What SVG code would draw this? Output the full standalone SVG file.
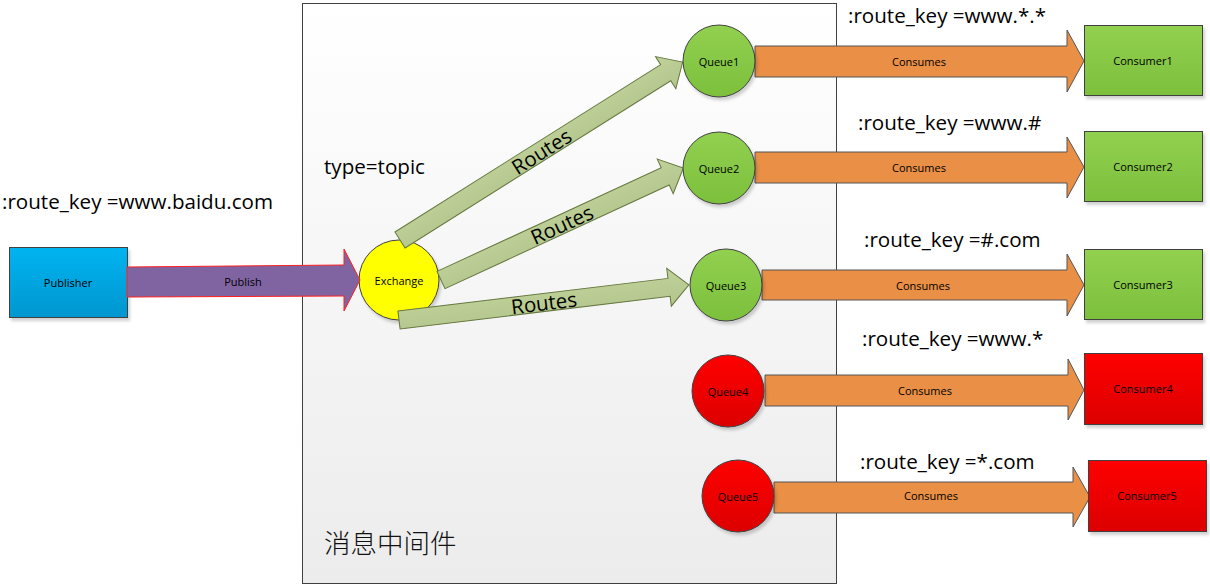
<svg xmlns="http://www.w3.org/2000/svg" width="1210" height="588" viewBox="0 0 1210 588">
<defs>
<linearGradient id="gBox" x1="0" y1="0" x2="0" y2="1"><stop offset="0" stop-color="#ffffff"/><stop offset="1" stop-color="#ececec"/></linearGradient>
<linearGradient id="gBlue" x1="0" y1="0" x2="0" y2="1"><stop offset="0" stop-color="#00b4f0"/><stop offset="1" stop-color="#0096cf"/></linearGradient>
<linearGradient id="gGreen" x1="0" y1="0" x2="0" y2="1"><stop offset="0" stop-color="#92d050"/><stop offset="1" stop-color="#7cc03c"/></linearGradient>
<linearGradient id="gRed" x1="0" y1="0" x2="0" y2="1"><stop offset="0" stop-color="#ff0000"/><stop offset="1" stop-color="#dc0000"/></linearGradient>
<linearGradient id="gRoute" x1="0" y1="0" x2="0" y2="1"><stop offset="0" stop-color="#c0d29a"/><stop offset="1" stop-color="#b2c58c"/></linearGradient>
<filter id="sh" x="-20%" y="-20%" width="140%" height="140%"><feDropShadow dx="2" dy="3" stdDeviation="1.5" flood-color="#000" flood-opacity="0.18"/></filter>
</defs>
<style>
.lbl{font-family:"Open Sans","Liberation Sans",sans-serif;fill:#000}
.key{font-size:20.6px}
.small{font-size:11px;text-anchor:middle;dominant-baseline:central}
.route{font-size:20.5px;text-anchor:middle;dominant-baseline:central}
.node{stroke:#404040;stroke-width:1}
.cons{fill:#e98f46;stroke:#555;stroke-width:1}
.rt{fill:url(#gRoute);stroke:#66773f;stroke-width:1}
</style>

<g id="middleware">
<rect x="302.5" y="3.5" width="534" height="580" fill="url(#gBox)" stroke="#404040" stroke-width="1"/>
<text class="lbl" x="324" y="174" font-size="20.6">type=topic</text>
<text x="324" y="553" font-size="26.5" font-family="'Noto Sans CJK SC',sans-serif" font-weight="300" fill="#111">消息中间件</text>
</g>

<g id="labels">
<text class="lbl key" x="2" y="209">:route_key =www.baidu.com</text>
<text class="lbl key" x="848" y="23">:route_key =www.*.*</text>
<text class="lbl key" x="858" y="130">:route_key =www.#</text>
<text class="lbl key" x="864" y="247">:route_key =#.com</text>
<text class="lbl key" x="862" y="346">:route_key =www.*</text>
<text class="lbl key" x="860" y="469">:route_key =*.com</text>
</g>

<g id="publisher">
<rect class="node" x="9.5" y="247.5" width="118" height="70" fill="url(#gBlue)" filter="url(#sh)"/>
<text class="lbl small" x="68" y="282">Publisher</text>
</g>

<g id="exchange">
<circle class="node" cx="399" cy="280" r="40" fill="#ffff00" filter="url(#sh)"/>
<text class="lbl small" x="399" y="280">Exchange</text>
</g>

<g id="connectors">
<g id="publish">
<polygon points="127,267 344,265 344,249 360,280 344,311 344,296 127,297" fill="#8064a2" stroke="#ff2020" stroke-width="1"/>
<text class="lbl small" x="243" y="281">Publish</text>
</g>
<g id="route1" transform="translate(400,240) rotate(-32.2)">
<path class="rt" d="M0,-9.5 H314 V-19 L334,0 L314,19 V9.5 H0 Z"/>
<text class="lbl route" x="167" y="0">Routes</text>
</g>
<g id="route2" transform="translate(441,280) rotate(-24.8)">
<path class="rt" d="M0,-9.5 H247 V-19 L267,0 L247,19 V9.5 H0 Z"/>
<text class="lbl route" x="133" y="0">Routes</text>
</g>
<g id="route3" transform="translate(399,320) rotate(-6.9)">
<path class="rt" d="M0,-9 H272 V-19 L292,0 L272,19 V9 H0 Z"/>
<text class="lbl route" x="146" y="0">Routes</text>
</g>
<g id="consume1">
<polygon class="cons" points="755,46 1067,46 1067,30 1084,61 1067,92 1067,77 755,77"/>
<text class="lbl small" x="919" y="61">Consumes</text>
</g>
<g id="consume2">
<polygon class="cons" points="755,152 1067,152 1067,137 1084,167 1067,198 1067,183 755,183"/>
<text class="lbl small" x="919" y="167">Consumes</text>
</g>
<g id="consume3">
<polygon class="cons" points="762,270 1067,270 1067,254 1084,285 1067,316 1067,300 762,300"/>
<text class="lbl small" x="923" y="285">Consumes</text>
</g>
<g id="consume4">
<polygon class="cons" points="765,375 1068,375 1068,359 1084,390 1068,420 1068,406 765,406"/>
<text class="lbl small" x="925" y="390">Consumes</text>
</g>
<g id="consume5">
<polygon class="cons" points="774,482 1073,482 1073,467 1090,497 1073,527 1073,513 774,513"/>
<text class="lbl small" x="931" y="495">Consumes</text>
</g>
</g>

<g id="queue1"><circle class="node" cx="719" cy="61" r="36" fill="url(#gGreen)" filter="url(#sh)"/><text class="lbl small" x="719" y="61">Queue1</text></g>
<g id="queue2"><circle class="node" cx="719" cy="168" r="36" fill="url(#gGreen)" filter="url(#sh)"/><text class="lbl small" x="719" y="168">Queue2</text></g>
<g id="queue3"><circle class="node" cx="726" cy="285" r="36" fill="url(#gGreen)" filter="url(#sh)"/><text class="lbl small" x="726" y="285">Queue3</text></g>
<g id="queue4"><circle class="node" cx="728" cy="391" r="36" fill="url(#gRed)" filter="url(#sh)"/><text class="lbl small" x="728" y="391">Queue4</text></g>
<g id="queue5"><circle class="node" cx="738" cy="496" r="36" fill="url(#gRed)" filter="url(#sh)"/><text class="lbl small" x="738" y="496">Queue5</text></g>

<g id="consumer1"><rect class="node" x="1084.5" y="25.5" width="118" height="70" fill="url(#gGreen)" filter="url(#sh)"/><text class="lbl small" x="1143" y="60">Consumer1</text></g>
<g id="consumer2"><rect class="node" x="1084.5" y="131.5" width="118" height="70" fill="url(#gGreen)" filter="url(#sh)"/><text class="lbl small" x="1143" y="166">Consumer2</text></g>
<g id="consumer3"><rect class="node" x="1084.5" y="249.5" width="118" height="70" fill="url(#gGreen)" filter="url(#sh)"/><text class="lbl small" x="1143" y="284">Consumer3</text></g>
<g id="consumer4"><rect class="node" x="1084.5" y="353.5" width="118" height="71" fill="url(#gRed)" filter="url(#sh)"/><text class="lbl small" x="1143" y="388">Consumer4</text></g>
<g id="consumer5"><rect class="node" x="1088.5" y="460.5" width="118" height="71" fill="url(#gRed)" filter="url(#sh)"/><text class="lbl small" x="1147" y="495">Consumer5</text></g>
</svg>
